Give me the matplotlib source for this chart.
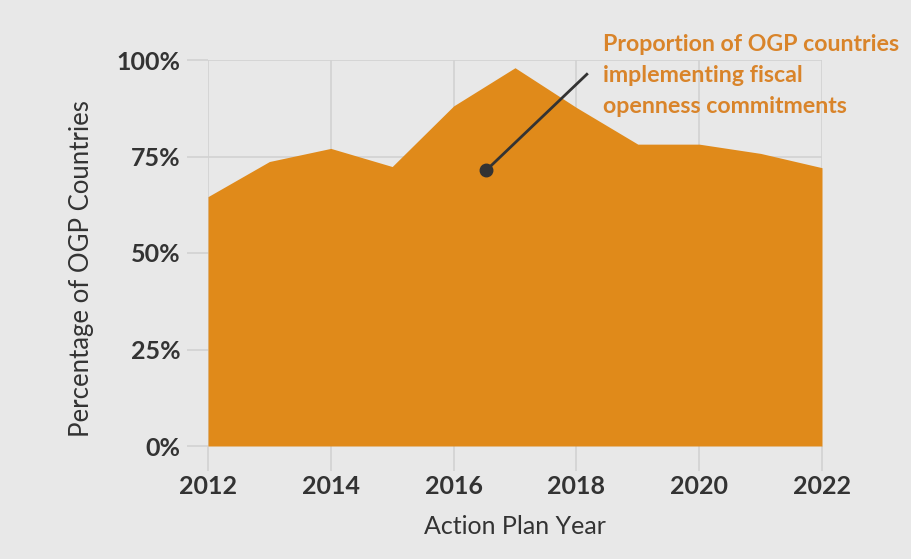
import matplotlib
matplotlib.use("Agg")
import matplotlib.pyplot as plt

years = [2012, 2013, 2014, 2015, 2016, 2017, 2018, 2019, 2020, 2021, 2022]
share = [64.6, 73.7, 77.1, 72.4, 88.1, 98.0, 87.7, 78.2, 78.2, 75.8, 72.1]
xticks = [2012, 2014, 2016, 2018, 2020, 2022]
yticks = [0, 25, 50, 75, 100]
ytick_labels = ["0%", "25%", "50%", "75%", "100%"]
annotation = "Proportion of OGP countries\nimplementing fiscal\nopenness commitments"

bg = "#e8e8e8"
fill_c = "#e08a1a"
text_c = "#333333"
ann_c = "#d9842a"

plt.rcParams['font.family'] = ['Lato', 'DejaVu Sans']

fig = plt.figure(figsize=(9.11, 5.59), dpi=100, facecolor=bg)
ax = fig.add_axes([208/911, 1-446/559, (822-208)/911, (446-60)/559])
ax.set_facecolor(bg)

ax.fill_between(years, share, 0, color=fill_c, linewidth=0, zorder=2)

ax.set_xlim(2012, 2022)
ax.set_ylim(0, 100)
ax.set_xticks(xticks)
ax.set_yticks(yticks)
ax.set_yticklabels(ytick_labels)
ax.grid(True, color="#d2d2d2", linewidth=1.2, zorder=0)
ax.set_axisbelow(True)
for s in ax.spines.values():
    s.set_visible(False)
ax.tick_params(axis='both', colors="#d2d2d2", labelcolor=text_c, labelsize=18, width=1.2)
ax.tick_params(axis='y', length=15, pad=5)
ax.tick_params(axis='x', length=18, pad=3)
for lab in ax.get_xticklabels() + ax.get_yticklabels():
    lab.set_fontweight('bold')

ax.set_xlabel("Action Plan Year", fontsize=18, color=text_c, labelpad=12)
ax.set_ylabel("Percentage of OGP Countries", fontsize=18.5, color=text_c, labelpad=16, y=0.46)

ax.plot([2016.53, 2018.17], [71.4, 96.3], color="#333333", linewidth=2, zorder=5, clip_on=False)
ax.plot([2016.53], [71.4], 'o', color="#333333", markersize=9, zorder=6, clip_on=False)

ax.text(2018.43, 106.8, annotation, color=ann_c, fontsize=16.7, fontweight='bold',
        va='top', ha='left', linespacing=1.6, clip_on=False, zorder=6)

fig.savefig("out.png", dpi=100, facecolor=bg)
